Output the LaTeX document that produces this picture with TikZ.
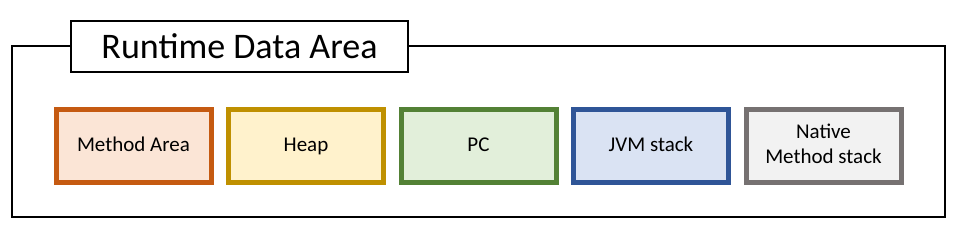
\documentclass[tikz,border=0pt]{standalone}
\usepackage{fontspec}
\setmainfont{Carlito}
\usetikzlibrary{positioning}

\definecolor{methodLine}{HTML}{C55A11}
\definecolor{methodFill}{HTML}{FBE5D6}
\definecolor{heapLine}{HTML}{BF9000}
\definecolor{heapFill}{HTML}{FFF2CC}
\definecolor{pcLine}{HTML}{538135}
\definecolor{pcFill}{HTML}{E2EFDA}
\definecolor{jvmLine}{HTML}{2F5597}
\definecolor{jvmFill}{HTML}{DAE3F3}
\definecolor{nativeLine}{HTML}{767171}
\definecolor{nativeFill}{HTML}{F2F2F2}

\newcommand{\boxstrut}{\rule[-5pt]{0pt}{21pt}}

\begin{document}
\begin{tikzpicture}[x=1pt, y=-1pt,
    area/.style={draw, line width=2pt},
    membox/.style={line width=5pt, minimum width=155pt, minimum height=73pt,
      inner sep=0pt, outer sep=0pt, align=center,
      font=\fontsize{21}{24.5}\selectfont,
      execute at begin node=\boxstrut, execute at end node=\boxstrut}]
    \useasboundingbox (0,0) rectangle (962,233);

    % outer frame with its title
    \draw[area] (11.5,46) rectangle (945,217);
    \node[area, fill=white, minimum width=337pt, minimum height=51pt,
      inner sep=0pt, outer sep=0pt, font=\fontsize{36}{40}\selectfont]
      (title) at (239.5,46.5) {Runtime Data Area};

    % memory areas
    \node[membox, draw=methodLine, fill=methodFill] (method) at (133.5,146) {Method Area};
    \node[membox, draw=heapLine, fill=heapFill, right=17.5pt of method] (heap) {Heap};
    \node[membox, draw=pcLine, fill=pcFill, right=17.5pt of heap] (pc) {PC};
    \node[membox, draw=jvmLine, fill=jvmFill, right=17.5pt of pc] (jvm) {JVM stack};
    \node[membox, draw=nativeLine, fill=nativeFill, right=17.5pt of jvm] (native) {Native\\Method stack};
  \end{tikzpicture}
\end{document}
